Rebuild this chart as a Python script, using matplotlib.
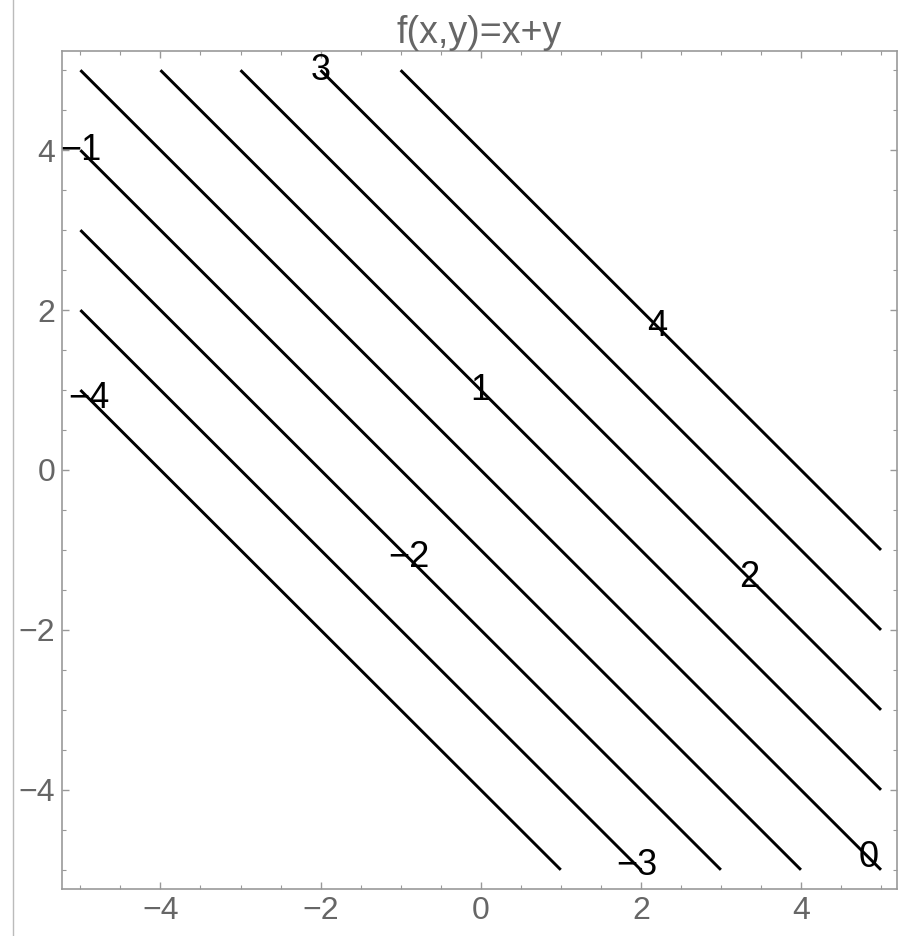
import numpy as np
import matplotlib
matplotlib.use("Agg")
import matplotlib.pyplot as plt
from matplotlib.lines import Line2D
from matplotlib.ticker import MultipleLocator

plt.rcParams['font.family'] = ['Liberation Sans', 'DejaVu Sans']

title = "f(x,y)=x+y"
levels = [-4, -3, -2, -1, 0, 1, 2, 3, 4]
# where each contour label sits (x, y)
label_pos = [(-4.9, 0.9), (1.95, -4.95), (-0.9, -1.1), (-5.0, 4.0), (4.85, -4.85),
             (0.0, 1.0), (3.35, -1.35), (-2.0, 5.0), (2.2, 1.8)]

xs = np.linspace(-5, 5, 201)
ys = np.linspace(-5, 5, 201)
X, Y = np.meshgrid(xs, ys)
Z = X + Y

fig = plt.figure(figsize=(8.98, 9.36), dpi=100)
ax = fig.add_axes([62 / 898, 47 / 936, 835 / 898, 838 / 936])

cs = ax.contour(X, Y, Z, levels=levels, colors='black', linewidths=2.1, linestyles='solid')
ax.clabel(cs, levels, inline=False, manual=label_pos, colors='black', fontsize=26,
          fmt=lambda v: f"{v:.0f}".replace('-', '\u2212'))
for t in cs.labelTexts:
    t.set_rotation(0)
    t.set_zorder(5)

ax.set_xlim(-5.23, 5.2)
ax.set_ylim(-5.24, 5.24)
ax.xaxis.set_major_locator(MultipleLocator(2))
ax.yaxis.set_major_locator(MultipleLocator(2))
ax.xaxis.set_minor_locator(MultipleLocator(0.5))
ax.yaxis.set_minor_locator(MultipleLocator(0.5))
ax.tick_params(which='both', direction='in', top=True, right=True, color='#999999')
ax.tick_params(which='major', length=5, width=1, labelsize=23, labelcolor='#666666', pad=5)
ax.tick_params(which='minor', length=3, width=0.8)
for s in ax.spines.values():
    s.set_color('#999999')
    s.set_linewidth(1.2)

ax.set_title(title, fontsize=27, color='#666666', pad=4)

fig.add_artist(Line2D([13 / 898, 13 / 898], [0, 1], color='#bbbbbb', linewidth=1))

fig.savefig("out.png", dpi=100)
